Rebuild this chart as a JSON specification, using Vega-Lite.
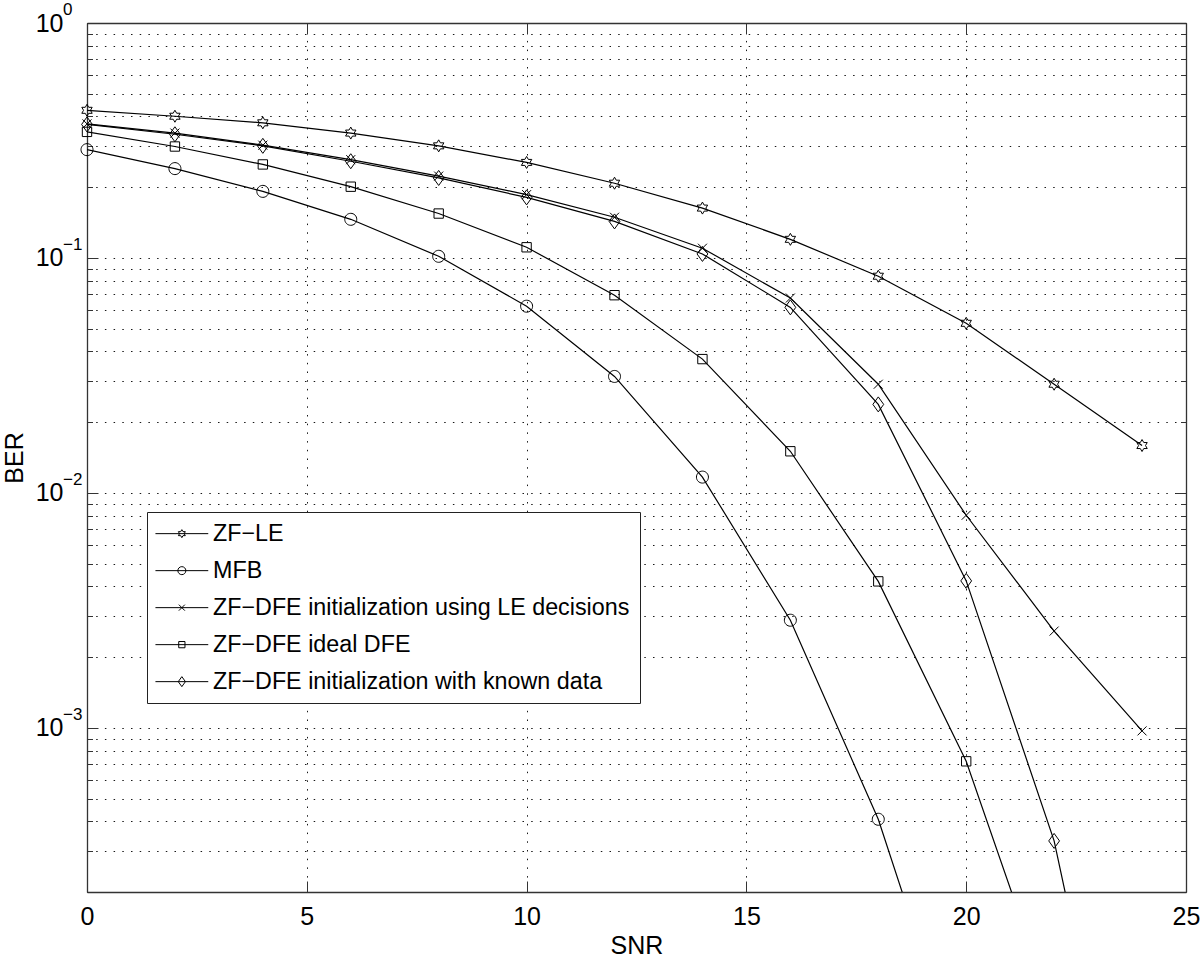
{
  "$schema": "https://vega.github.io/schema/vega-lite/v6.json",
  "width": 1099,
  "height": 869,
  "autosize": "none",
  "padding": {"left": 87, "top": 23, "right": 14, "bottom": 68},
  "background": "white",
  "config": {"view": {"stroke": null}, "font": "Liberation Sans"},
  "datasets": {
    "ber": [
      {"series": "ZF−LE", "snr": 0, "ber": 0.425},
      {"series": "ZF−LE", "snr": 2, "ber": 0.401},
      {"series": "ZF−LE", "snr": 4, "ber": 0.376},
      {"series": "ZF−LE", "snr": 6, "ber": 0.340},
      {"series": "ZF−LE", "snr": 8, "ber": 0.300},
      {"series": "ZF−LE", "snr": 10, "ber": 0.255},
      {"series": "ZF−LE", "snr": 12, "ber": 0.208},
      {"series": "ZF−LE", "snr": 14, "ber": 0.163},
      {"series": "ZF−LE", "snr": 16, "ber": 0.120},
      {"series": "ZF−LE", "snr": 18, "ber": 0.0836},
      {"series": "ZF−LE", "snr": 20, "ber": 0.0527},
      {"series": "ZF−LE", "snr": 22, "ber": 0.029},
      {"series": "ZF−LE", "snr": 24, "ber": 0.0159},
      {"series": "MFB", "snr": 0, "ber": 0.289},
      {"series": "MFB", "snr": 2, "ber": 0.240},
      {"series": "MFB", "snr": 4, "ber": 0.192},
      {"series": "MFB", "snr": 6, "ber": 0.146},
      {"series": "MFB", "snr": 8, "ber": 0.1016},
      {"series": "MFB", "snr": 10, "ber": 0.0623},
      {"series": "MFB", "snr": 12, "ber": 0.0313},
      {"series": "MFB", "snr": 14, "ber": 0.01167},
      {"series": "MFB", "snr": 16, "ber": 0.00287},
      {"series": "MFB", "snr": 18, "ber": 0.000408},
      {"series": "MFB", "snr": 20, "ber": 0.0000295},
      {"series": "ZF−DFE initialization using LE decisions", "snr": 0, "ber": 0.372},
      {"series": "ZF−DFE initialization using LE decisions", "snr": 2, "ber": 0.340},
      {"series": "ZF−DFE initialization using LE decisions", "snr": 4, "ber": 0.302},
      {"series": "ZF−DFE initialization using LE decisions", "snr": 6, "ber": 0.262},
      {"series": "ZF−DFE initialization using LE decisions", "snr": 8, "ber": 0.223},
      {"series": "ZF−DFE initialization using LE decisions", "snr": 10, "ber": 0.186},
      {"series": "ZF−DFE initialization using LE decisions", "snr": 12, "ber": 0.149},
      {"series": "ZF−DFE initialization using LE decisions", "snr": 14, "ber": 0.110},
      {"series": "ZF−DFE initialization using LE decisions", "snr": 16, "ber": 0.0675},
      {"series": "ZF−DFE initialization using LE decisions", "snr": 18, "ber": 0.029},
      {"series": "ZF−DFE initialization using LE decisions", "snr": 20, "ber": 0.00803},
      {"series": "ZF−DFE initialization using LE decisions", "snr": 22, "ber": 0.00258},
      {"series": "ZF−DFE initialization using LE decisions", "snr": 24, "ber": 0.00097},
      {"series": "ZF−DFE ideal DFE", "snr": 0, "ber": 0.344},
      {"series": "ZF−DFE ideal DFE", "snr": 2, "ber": 0.298},
      {"series": "ZF−DFE ideal DFE", "snr": 4, "ber": 0.250},
      {"series": "ZF−DFE ideal DFE", "snr": 6, "ber": 0.201},
      {"series": "ZF−DFE ideal DFE", "snr": 8, "ber": 0.1545},
      {"series": "ZF−DFE ideal DFE", "snr": 10, "ber": 0.111},
      {"series": "ZF−DFE ideal DFE", "snr": 12, "ber": 0.0694},
      {"series": "ZF−DFE ideal DFE", "snr": 14, "ber": 0.0371},
      {"series": "ZF−DFE ideal DFE", "snr": 16, "ber": 0.01503},
      {"series": "ZF−DFE ideal DFE", "snr": 18, "ber": 0.0042},
      {"series": "ZF−DFE ideal DFE", "snr": 20, "ber": 0.00072},
      {"series": "ZF−DFE ideal DFE", "snr": 22, "ber": 0.00006},
      {"series": "ZF−DFE initialization with known data", "snr": 0, "ber": 0.370},
      {"series": "ZF−DFE initialization with known data", "snr": 2, "ber": 0.336},
      {"series": "ZF−DFE initialization with known data", "snr": 4, "ber": 0.300},
      {"series": "ZF−DFE initialization with known data", "snr": 6, "ber": 0.258},
      {"series": "ZF−DFE initialization with known data", "snr": 8, "ber": 0.219},
      {"series": "ZF−DFE initialization with known data", "snr": 10, "ber": 0.181},
      {"series": "ZF−DFE initialization with known data", "snr": 12, "ber": 0.143},
      {"series": "ZF−DFE initialization with known data", "snr": 14, "ber": 0.104},
      {"series": "ZF−DFE initialization with known data", "snr": 16, "ber": 0.0616},
      {"series": "ZF−DFE initialization with known data", "snr": 18, "ber": 0.0238},
      {"series": "ZF−DFE initialization with known data", "snr": 20, "ber": 0.00422},
      {"series": "ZF−DFE initialization with known data", "snr": 22, "ber": 0.00033},
      {"series": "ZF−DFE initialization with known data", "snr": 24, "ber": 0.000006}
    ]
  },
  "layer": [
    {
      "data": {"name": "ber"},
      "mark": {"type": "line", "strokeWidth": 1.2, "clip": true},
      "encoding": {
        "x": {
          "field": "snr", "type": "quantitative",
          "scale": {"domain": [0, 25], "nice": false, "zero": false},
          "axis": {
            "orient": "bottom", "values": [0, 5, 10, 15, 20, 25], "format": "d",
            "title": "SNR", "titleFont": "Liberation Sans", "titleFontSize": 25, "titleFontWeight": "normal", "titleColor": "black", "titlePadding": 4,
            "labelFont": "Liberation Sans", "labelFontSize": 25, "labelColor": "black", "labelPadding": 23, "labelFlush": false, "labelOverlap": false,
            "tickSize": -11, "tickColor": "#333", "tickWidth": 1,
            "domainColor": "#333", "domainWidth": 1.3,
            "grid": true, "gridColor": "#000", "gridDash": [1.5, 7.2], "gridWidth": 1, "gridOpacity": 0.9
          }
        },
        "y": {
          "field": "ber", "type": "quantitative",
          "scale": {"type": "log", "domain": [0.0002, 1], "nice": false},
          "axis": {
            "orient": "left",
            "values": [0.0002, 0.0003, 0.0004, 0.0005, 0.0006, 0.0007, 0.0008, 0.0009, 0.001, 0.002, 0.003, 0.004, 0.005, 0.006, 0.007, 0.008, 0.009, 0.01, 0.02, 0.03, 0.04, 0.05, 0.06, 0.07, 0.08, 0.09, 0.1, 0.2, 0.3, 0.4, 0.5, 0.6, 0.7, 0.8, 0.9, 1],
            "labelExpr": "abs(log(datum.value)/LN10 - round(log(datum.value)/LN10)) < 0.000001 ? '10' : ''",
            "title": "BER", "titleFont": "Liberation Sans", "titleFontSize": 25, "titleFontWeight": "normal", "titleColor": "black", "titlePadding": 8,
            "labelFont": "Liberation Sans", "labelFontSize": 25, "labelColor": "black", "labelPadding": 35, "labelBaseline": "middle", "labelFlush": false, "labelOverlap": false,
            "tickSize": {"condition": {"test": "abs(log(datum.value)/LN10 - round(log(datum.value)/LN10)) < 0.000001", "value": -11}, "value": -5.5},
            "tickColor": "#333", "tickWidth": 1,
            "domainColor": "#333", "domainWidth": 1.3,
            "grid": true, "gridColor": "#000", "gridDash": [1.5, 7.2], "gridWidth": 1, "gridOpacity": 0.9
          }
        },
        "color": {
          "field": "series", "type": "nominal",
          "scale": {
            "domain": ["ZF−LE", "MFB", "ZF−DFE initialization using LE decisions", "ZF−DFE ideal DFE", "ZF−DFE initialization with known data"],
            "range": ["black", "black", "black", "black", "black"]
          },
          "legend": {
            "title": null, "orient": "none", "legendX": 60, "legendY": 489,
            "padding": 10, "strokeColor": "#222", "fillColor": "white", "cornerRadius": 0,
            "labelFont": "Liberation Sans", "labelFontSize": 23.3, "labelColor": "black", "labelLimit": 800,
            "symbolType": "M-6.6,0L6.6,0", "symbolSize": 64, "symbolStrokeWidth": 1, "symbolStrokeColor": "black",
            "symbolOffset": 13.2, "labelOffset": 19.5, "rowPadding": 13
          }
        }
      }
    },
    {
      "data": {"name": "ber"},
      "transform": [{"filter": "datum.ber >= 0.0002"}],
      "mark": {"type": "point", "filled": false, "color": "black", "strokeWidth": 1, "size": 144, "opacity": 1},
      "encoding": {
        "x": {
          "field": "snr", "type": "quantitative",
          "scale": {"domain": [0, 25], "nice": false, "zero": false},
          "axis": {
            "orient": "top", "values": [0, 5, 10, 15, 20, 25], "labels": false, "title": null, "grid": false,
            "tickSize": -11, "tickColor": "#333", "tickWidth": 1, "domainColor": "#333", "domainWidth": 1.3
          }
        },
        "y": {
          "field": "ber", "type": "quantitative",
          "scale": {"type": "log", "domain": [0.0002, 1], "nice": false},
          "axis": {
            "orient": "right",
            "values": [0.0002, 0.0003, 0.0004, 0.0005, 0.0006, 0.0007, 0.0008, 0.0009, 0.001, 0.002, 0.003, 0.004, 0.005, 0.006, 0.007, 0.008, 0.009, 0.01, 0.02, 0.03, 0.04, 0.05, 0.06, 0.07, 0.08, 0.09, 0.1, 0.2, 0.3, 0.4, 0.5, 0.6, 0.7, 0.8, 0.9, 1],
            "labels": false, "title": null, "grid": false,
            "tickSize": {"condition": {"test": "abs(log(datum.value)/LN10 - round(log(datum.value)/LN10)) < 0.000001", "value": -11}, "value": -5.5},
            "tickColor": "#333", "tickWidth": 1, "domainColor": "#333", "domainWidth": 1.3
          }
        },
        "shape": {
          "field": "series", "type": "nominal",
          "scale": {
            "domain": ["ZF−LE", "MFB", "ZF−DFE initialization using LE decisions", "ZF−DFE ideal DFE", "ZF−DFE initialization with known data", " "],
            "range": [
              "M0,-1L0.289,-0.5L0.866,-0.5L0.577,0L0.866,0.5L0.289,0.5L0,1L-0.289,0.5L-0.866,0.5L-0.577,0L-0.866,-0.5L-0.289,-0.5Z",
              "M1,0A1,1,0,1,1,-1,0A1,1,0,1,1,1,0Z",
              "M-0.75,-0.75L0.75,0.75M-0.75,0.75L0.75,-0.75",
              "M-0.78,-0.78L0.78,-0.78L0.78,0.78L-0.78,0.78Z",
              "M0,-1.25L0.9,0L0,1.25L-0.9,0Z",
              "M0,0"
            ]
          },
          "legend": {
            "title": null, "orient": "none", "legendX": 60, "legendY": 489,
            "padding": 10, "strokeColor": "transparent", "fillColor": "transparent",
            "labelFont": "Liberation Sans", "labelFontSize": 23.3, "labelColor": "black", "labelOpacity": 0, "labelLimit": 800,
            "labelOffset": 19.5, "symbolOffset": 13.2, "symbolSize": 64, "symbolStrokeWidth": 1, "symbolStrokeColor": "black", "symbolFillColor": "transparent", "rowPadding": 13
          }
        }
      }
    },
    {
      "data": {"values": [
        {"v": 1, "e": "0"},
        {"v": 0.1, "e": "−1"},
        {"v": 0.01, "e": "−2"},
        {"v": 0.001, "e": "−3"}
      ]},
      "mark": {"type": "text", "align": "left", "baseline": "alphabetic", "dx": -24, "dy": -8, "fontSize": 17, "font": "Liberation Sans", "color": "black"},
      "encoding": {
        "x": {"datum": 0, "type": "quantitative", "scale": {"domain": [0, 25], "nice": false, "zero": false}, "axis": null},
        "y": {"field": "v", "type": "quantitative", "scale": {"type": "log", "domain": [0.0002, 1], "nice": false}, "axis": null},
        "text": {"field": "e", "type": "nominal"}
      }
    }
  ],
  "resolve": {"axis": {"x": "independent", "y": "independent"}}
}
